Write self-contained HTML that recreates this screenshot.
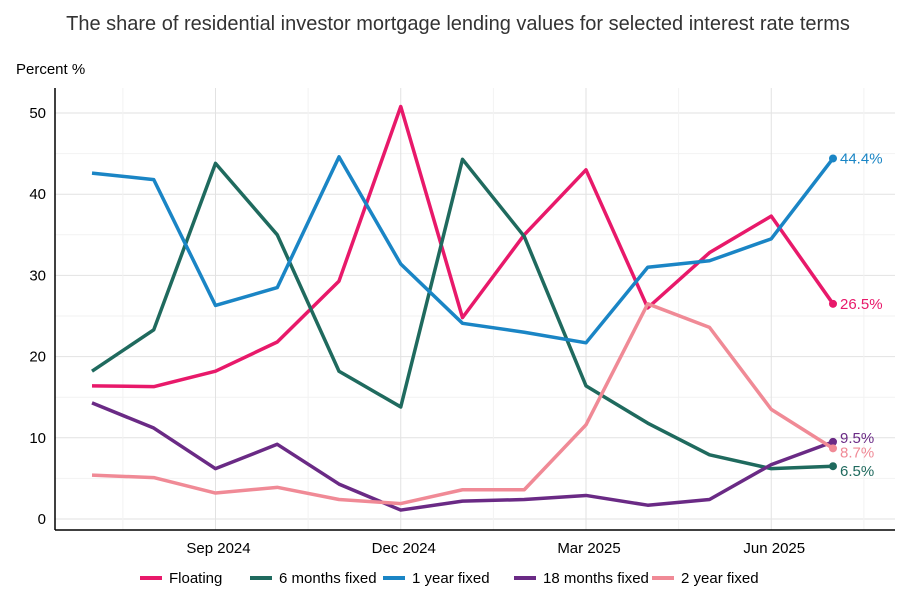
<!DOCTYPE html>
<html><head><meta charset="utf-8"><style>
body{margin:0;background:#fff;font-family:"Liberation Sans",sans-serif}
svg text{font-family:"Liberation Sans",sans-serif}
</style></head><body>
<svg id="chart" width="916" height="596">
<text x="458" y="30" text-anchor="middle" font-size="20" fill="#333">The share of residential investor mortgage lending values for selected interest rate terms</text>
<text x="16" y="74" font-size="15" fill="#000">Percent %</text>
<g id="grid"></g><g id="axes"></g><g id="lines"></g><g id="legend"></g>
</svg>
<script>
const months=["Jul 2024","Aug 2024","Sep 2024","Oct 2024","Nov 2024","Dec 2024","Jan 2025","Feb 2025","Mar 2025","Apr 2025","May 2025","Jun 2025","Jul 2025"];
const seriesNames=["Floating","6 months fixed","1 year fixed","18 months fixed","2 year fixed"];
const floating=[16.4,16.3,18.2,21.8,29.3,50.8,24.8,35.0,43.0,26.0,32.8,37.3,26.5];
const sixMonths=[18.2,23.3,43.8,35.0,18.2,13.8,44.3,34.8,16.4,11.8,7.9,6.2,6.5];
const oneYear=[42.6,41.8,26.3,28.5,44.6,31.4,24.1,23.0,21.7,31.0,31.8,34.5,44.4];
const eighteenMonths=[14.3,11.2,6.2,9.2,4.3,1.1,2.2,2.4,2.9,1.7,2.4,6.7,9.5];
const twoYear=[5.4,5.1,3.2,3.9,2.4,1.9,3.6,3.6,11.6,26.5,23.6,13.5,8.7];
const yTicks=[0,10,20,30,40,50];
const xTickIdx=[2,5,8,11];
const xTickLabels=["Sep 2024","Dec 2024","Mar 2025","Jun 2025"];
const colors=["#e8196a","#1f6a5e","#1a85c5","#6a2a85","#f08a96"];
const allSeries=[floating,sixMonths,oneYear,eighteenMonths,twoYear];
const ns="http://www.w3.org/2000/svg";
const X=i=>92+i*61.75, Y=v=>519-v*8.12;
const L=55,R=895,T=88,B=530;
function mk(tag,attrs,parent){const e=document.createElementNS(ns,tag);for(const k in attrs)e.setAttribute(k,attrs[k]);parent.appendChild(e);return e;}
const grid=document.getElementById('grid'),axes=document.getElementById('axes'),lines=document.getElementById('lines'),legend=document.getElementById('legend');
for(let v=0;v<=52;v+=5){const g=mk('line',{x1:L,x2:R,y1:Y(v),y2:Y(v),stroke:v%10?'#f2f2f2':'#e2e2e2','stroke-width':1},grid);

}
for(let i=0.5;i<=12.6;i+=1.5){const major=Math.abs((i-2)%3)<0.01;const g=mk('line',{x1:X(i),x2:X(i),y1:T,y2:B,stroke:major?'#e2e2e2':'#f2f2f2','stroke-width':1},grid);

}
mk('line',{x1:L,x2:L,y1:T,y2:B,stroke:'#000','stroke-width':1.5},axes);
mk('line',{x1:L,x2:R,y1:B,y2:B,stroke:'#000','stroke-width':1.5},axes);
yTicks.forEach(v=>{const t=mk('text',{x:46,y:Y(v)+5,'text-anchor':'end','font-size':15},axes);t.textContent=v;

});
xTickIdx.forEach((i,k)=>{const t=mk('text',{x:X(i)+3,y:553,'text-anchor':'middle','font-size':15},axes);t.textContent=xTickLabels[k];

});
const labelOff=[0,5,0,-4,4];
allSeries.forEach((s,k)=>{
const p=mk('polyline',{points:s.map((v,i)=>X(i)+','+Y(v)).join(' '),fill:'none',stroke:colors[k],'stroke-width':3.5,'stroke-linejoin':'round'},lines);


const n=s.length-1;
const c=mk('circle',{cx:X(n),cy:Y(s[n]),r:4,fill:colors[k]},lines);


const t=mk('text',{x:X(n)+7,y:Y(s[n])+5+labelOff[k],'font-size':15,fill:colors[k]},lines);t.textContent=s[n].toFixed(1)+'%';


});
const lx=[140,250,383,514,652];
seriesNames.forEach((nm,k)=>{
const l=mk('line',{x1:lx[k],x2:lx[k]+22,y1:578,y2:578,stroke:colors[k],'stroke-width':4},legend);


const t=mk('text',{x:lx[k]+29,y:583,'font-size':15},legend);t.textContent=nm;


});
</script>
</body></html>
